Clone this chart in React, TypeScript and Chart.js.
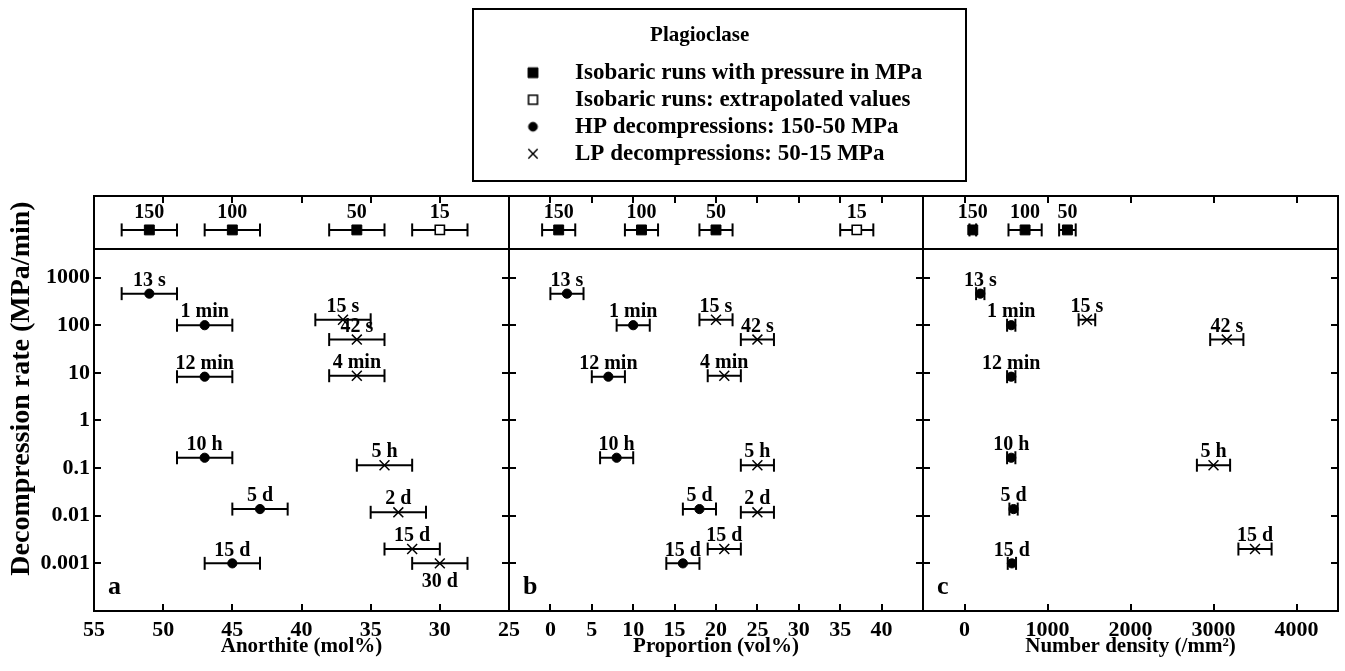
import React, { useEffect, useRef } from 'react';
import { Chart, registerables } from 'chart.js';
import { drawPoint } from 'chart.js/helpers';

Chart.register(...registerables);

const W = 1345;
const H = 671;
const SERIF = "'Liberation Serif', 'Times New Roman', Times, serif";

// ---------------- data ----------------
const pressureLabels = ['150', '100', '50', '15'];
const pressureExtrapolated = [false, false, false, true];
const isoAnorthite = [51, 45, 36, 30];
const isoAnorthiteErr = [2, 2, 2, 2];
const isoProportion = [1, 11, 20, 37];
const isoProportionErr = [2, 2, 2, 2];
const isoDensity = [100, 730, 1240, null];
const isoDensityErr = [40, 200, 100, null];

const hpLabels = ['13 s', '1 min', '12 min', '10 h', '5 d', '15 d'];
const hpRate = [460, 100, 8.3, 0.165, 0.0138, 0.001];
const hpAnorthite = [51, 47, 47, 47, 43, 45];
const hpAnorthiteErr = [2, 2, 2, 2, 2, 2];
const hpProportion = [2, 10, 7, 8, 18, 16];
const hpProportionErr = [2, 2, 2, 2, 2, 2];
const hpDensity = [190, 563, 563, 563, 591, 571];
const hpDensityErr = [50, 50, 50, 50, 50, 50];

const lpLabels = ['15 s', '42 s', '4 min', '5 h', '2 d', '15 d', '30 d'];
const lpRate = [130, 50, 8.7, 0.115, 0.0118, 0.002, 0.001];
const lpAnorthite = [37, 36, 36, 34, 33, 32, 30];
const lpAnorthiteErr = [2, 2, 2, 2, 2, 2, 2];
const lpProportion = [20, 25, 21, 25, 25, 21, null];
const lpProportionErr = [2, 2, 2, 2, 2, 2, null];
const lpDensity = [1475, 3160, null, 3000, null, 3500, null];
const lpDensityErr = [100, 200, null, 200, null, 200, null];

const rateTicks = [1000, 100, 10, 1, 0.1, 0.01, 0.001];
const anorthiteTicks = [55, 50, 45, 40, 35, 30, 25];
const proportionTicks = [0, 5, 10, 15, 20, 25, 30, 35, 40];
const densityTicks = [0, 1000, 2000, 3000, 4000];

const legendTitle = 'Plagioclase';
const legendTexts = [
  'Isobaric runs with pressure in MPa',
  'Isobaric runs: extrapolated values',
  'HP decompressions: 150-50 MPa',
  'LP decompressions: 50-15 MPa',
];
const labelsBelow = ['30 d'];

// ---------------- layout / style ----------------
const STRIP_TOP = 196;
const SPLIT = 249;
const BOTTOM = 611;
const STRIP_LEVEL = 0.36;

const tickFont = { family: SERIF, size: 22, weight: 'bold' as const };
const titleFont = { family: SERIF, size: 21, weight: 'bold' as const };

const markerStyles: Record<string, any> = {
  iso: { pointStyle: 'rect', pointRadius: 7, pointBackgroundColor: '#000', pointBorderColor: '#000', pointBorderWidth: 1 },
  isoOpen: { pointStyle: 'rect', pointRadius: 6.5, pointBackgroundColor: '#fff', pointBorderColor: '#000', pointBorderWidth: 1.6 },
  hp: { pointStyle: 'circle', pointRadius: 4.6, pointBackgroundColor: '#000', pointBorderColor: '#000', pointBorderWidth: 1 },
  lp: { pointStyle: 'crossRot', pointRadius: 7, pointBackgroundColor: '#000', pointBorderColor: '#000', pointBorderWidth: 1.5 },
};

type Num = number | null;

function collect(xs: Num[], ys: Num[], labels: string[], keep?: (i: number) => boolean) {
  const data: { x: number; y: number }[] = [];
  const lab: string[] = [];
  xs.forEach((x, i) => {
    if (x == null || ys[i] == null) return;
    if (keep && !keep(i)) return;
    data.push({ x, y: ys[i] as number });
    lab.push(labels[i]);
  });
  return { data, lab };
}

function errorBars(xs: Num[], errs: Num[], ys: Num[]) {
  const out: { x: number | null; y: number | null }[] = [];
  xs.forEach((x, i) => {
    const e = errs[i];
    const y = ys[i];
    if (x == null || e == null || y == null) return;
    out.push({ x: x - e, y }, { x: x + e, y }, { x: null, y: null });
  });
  return out;
}

function markerSet(kind: string, label: string, c: { data: any[]; lab: string[] }, offset: number) {
  return {
    label,
    data: c.data,
    pointLabels: c.lab,
    labelOffset: offset,
    order: 0,
    ...markerStyles[kind],
    pointHoverRadius: markerStyles[kind].pointRadius,
  };
}

function barSet(data: any[]) {
  return {
    data,
    showLine: true,
    borderColor: '#000',
    borderWidth: 2,
    pointStyle: 'line',
    pointRadius: 6.5,
    pointHoverRadius: 6.5,
    pointRotation: 90,
    pointBorderColor: '#000',
    pointBorderWidth: 2,
    pointBackgroundColor: '#000',
    order: 1,
  };
}

const fixSize = (size: number) => (scale: any) => {
  if (scale.isHorizontal()) scale.height = size;
  else scale.width = size;
  scale.paddingLeft = 0;
  scale.paddingRight = 0;
  scale.paddingTop = 0;
  scale.paddingBottom = 0;
};

const setTicks = (values: number[]) => (scale: any) => {
  scale.ticks = values.map((v) => ({ value: v }));
};

const tickGrid = () => ({
  drawOnChartArea: false,
  drawTicks: true,
  tickLength: -7,
  color: '#000',
  lineWidth: 2,
});

const decorPlugin = {
  id: 'decor',
  afterDatasetsDraw(chart: any) {
    const ctx = chart.ctx;
    ctx.save();
    ctx.fillStyle = '#000';
    ctx.font = `bold 20px ${SERIF}`;
    ctx.textAlign = 'center';
    ctx.textBaseline = 'middle';
    chart.data.datasets.forEach((ds: any, i: number) => {
      if (!ds.pointLabels) return;
      const meta = chart.getDatasetMeta(i);
      meta.data.forEach((el: any, j: number) => {
        const text = ds.pointLabels[j];
        if (!text) return;
        const below = labelsBelow.includes(text);
        ctx.fillText(text, el.x, below ? el.y + 18 : el.y - ds.labelOffset);
      });
    });
    ctx.restore();
  },
  afterDraw(chart: any, _args: any, opts: any) {
    const { ctx, chartArea: a } = chart;
    ctx.save();
    ctx.strokeStyle = '#000';
    ctx.lineWidth = 2;
    ctx.strokeRect(a.left, a.top, a.right - a.left, a.bottom - a.top);
    ctx.fillStyle = '#000';
    if (opts && opts.letter) {
      ctx.font = `bold 26px ${SERIF}`;
      ctx.textAlign = 'left';
      ctx.textBaseline = 'middle';
      ctx.fillText(opts.letter, a.left + 14, a.bottom - 24);
    }
    if (opts && opts.yTitle) {
      ctx.translate(opts.yTitleX, opts.yTitleY);
      ctx.rotate(-Math.PI / 2);
      ctx.font = `bold 28px ${SERIF}`;
      ctx.textAlign = 'center';
      ctx.textBaseline = 'middle';
      ctx.fillText(opts.yTitle, 0, 0);
    }
    ctx.restore();
  },
};

type Panel = {
  left: number;
  right: number;
  min: number;
  max: number;
  reverse: boolean;
  ticks: number[];
  title: string;
  letter: string;
  iso: Num[];
  isoErr: Num[];
  hp: Num[];
  hpErr: Num[];
  lp: Num[];
  lpErr: Num[];
  yLabels: boolean;
};

const panels: Panel[] = [
  {
    left: 94, right: 509, min: 25, max: 55, reverse: true, ticks: anorthiteTicks,
    title: 'Anorthite (mol%)', letter: 'a',
    iso: isoAnorthite, isoErr: isoAnorthiteErr, hp: hpAnorthite, hpErr: hpAnorthiteErr,
    lp: lpAnorthite, lpErr: lpAnorthiteErr, yLabels: true,
  },
  {
    left: 509, right: 923, min: -5, max: 45, reverse: false, ticks: proportionTicks,
    title: 'Proportion (vol%)', letter: 'b',
    iso: isoProportion, isoErr: isoProportionErr, hp: hpProportion, hpErr: hpProportionErr,
    lp: lpProportion, lpErr: lpProportionErr, yLabels: false,
  },
  {
    left: 923, right: 1338, min: -500, max: 4500, reverse: false, ticks: densityTicks,
    title: 'Number density (/mm²)', letter: 'c',
    iso: isoDensity, isoErr: isoDensityErr, hp: hpDensity, hpErr: hpDensityErr,
    lp: lpDensity, lpErr: lpDensityErr, yLabels: false,
  },
];

function stripConfig(p: Panel): any {
  const levels = p.iso.map(() => STRIP_LEVEL);
  return {
    type: 'scatter',
    data: {
      datasets: [
        markerSet('iso', legendTexts[0], collect(p.iso, levels, pressureLabels, (i) => !pressureExtrapolated[i]), 17),
        markerSet('isoOpen', legendTexts[1], collect(p.iso, levels, pressureLabels, (i) => pressureExtrapolated[i]), 17),
        barSet(errorBars(p.iso, p.isoErr, levels)),
      ],
    },
    options: {
      responsive: false,
      animation: false,
      devicePixelRatio: 1,
      events: [],
      layout: { padding: { left: p.left, right: W - p.right, top: STRIP_TOP, bottom: H - SPLIT }, autoPadding: false },
      scales: {
        x: {
          type: 'linear', position: 'top', min: p.min, max: p.max, reverse: p.reverse,
          afterBuildTicks: setTicks(p.ticks), afterFit: fixSize(0),
          grid: tickGrid(), border: { display: false },
          ticks: { display: false, autoSkip: false },
        },
        y: { type: 'linear', display: false, min: 0, max: 1 },
      },
      plugins: { legend: { display: false }, tooltip: { enabled: false }, decor: {} },
    },
    plugins: [decorPlugin],
  };
}

function mainConfig(p: Panel, first: boolean): any {
  // the labelled left axis needs a real box width (labels are clipped to it)
  const leftAxisWidth = p.yLabels ? p.left : 0;
  const yAxis = (position: string, showLabels: boolean, width: number) => ({
    type: 'logarithmic', position, min: 1e-4, max: Math.pow(10, 3.6),
    afterBuildTicks: setTicks(rateTicks), afterFit: fixSize(width),
    grid: tickGrid(), border: { display: false },
    ticks: {
      display: showLabels, autoSkip: false, padding: 11, color: '#000', font: tickFont,
      callback: (v: number) => String(v),
    },
  });
  return {
    type: 'scatter',
    data: {
      datasets: [
        markerSet('hp', legendTexts[2], collect(p.hp, hpRate, hpLabels), 13),
        barSet(errorBars(p.hp, p.hpErr, hpRate)),
        markerSet('lp', legendTexts[3], collect(p.lp, lpRate, lpLabels), 13),
        barSet(errorBars(p.lp, p.lpErr, lpRate)),
      ],
    },
    options: {
      responsive: false,
      animation: false,
      devicePixelRatio: 1,
      events: [],
      layout: {
        padding: { left: p.left - leftAxisWidth, right: W - p.right, top: SPLIT, bottom: 0 },
        autoPadding: false,
      },
      scales: {
        x: {
          type: 'linear', position: 'bottom', min: p.min, max: p.max, reverse: p.reverse,
          afterBuildTicks: setTicks(p.ticks), afterFit: fixSize(H - BOTTOM),
          grid: tickGrid(), border: { display: false },
          ticks: {
            autoSkip: false, maxRotation: 0, padding: 13, color: '#000', font: tickFont,
            callback: (v: number) => String(v),
          },
          title: { display: true, text: p.title, color: '#000', font: titleFont, padding: { top: 0, bottom: 12 } },
        },
        y: yAxis('left', p.yLabels, leftAxisWidth),
        y2: yAxis('right', false, 0),
      },
      plugins: {
        legend: { display: false },
        tooltip: { enabled: false },
        decor: first
          ? { letter: p.letter, yTitle: 'Decompression rate (MPa/min)', yTitleX: 21.5, yTitleY: 388.5 }
          : { letter: p.letter },
      },
    },
    plugins: [decorPlugin],
  };
}

function legendIcon(ds: any) {
  const r = ds.pointRadius;
  const bw = ds.pointBorderWidth;
  const size = Math.ceil(2 * r + 6);
  const c = document.createElement('canvas');
  c.width = size;
  c.height = size;
  const ctx = c.getContext('2d') as CanvasRenderingContext2D;
  ctx.fillStyle = ds.pointBackgroundColor;
  ctx.strokeStyle = ds.pointBorderColor;
  ctx.lineWidth = bw;
  drawPoint(ctx, { pointStyle: ds.pointStyle, radius: r, borderWidth: bw, rotation: 0 } as any, size / 2, size / 2);
  return c;
}

function legendConfig(): any {
  const legendStyles = [
    { ...markerStyles.iso, pointRadius: 7 },
    { ...markerStyles.isoOpen, pointRadius: 6.3 },
    { ...markerStyles.hp, pointRadius: 4.4 },
    { ...markerStyles.lp, pointRadius: 6.6 },
  ];
  return {
    type: 'scatter',
    data: {
      datasets: legendTexts.map((t, i) => ({ label: t, data: [], ...legendStyles[i] })),
    },
    options: {
      responsive: false,
      animation: false,
      devicePixelRatio: 1,
      events: [],
      layout: { padding: { left: 24.5, right: 0, top: 0, bottom: 0 }, autoPadding: false },
      scales: { x: { display: false }, y: { display: false } },
      plugins: {
        tooltip: { enabled: false },
        legend: {
          display: true,
          position: 'left',
          align: 'start',
          maxWidth: 2000,
          title: {
            display: true,
            text: legendTitle + '      ',
            color: '#000',
            font: { family: SERIF, size: 21, weight: 'bold' },
            padding: { top: 15, bottom: 7 },
          },
          labels: {
            usePointStyle: true,
            pointStyleWidth: 61,
            color: '#000',
            padding: 4,
            font: { family: SERIF, size: 23, weight: 'bold' },
            generateLabels: (chart: any) =>
              chart.data.datasets.map((ds: any, i: number) => ({
                text: ds.label,
                datasetIndex: i,
                pointStyle: legendIcon(ds),
                fillStyle: ds.pointBackgroundColor,
                strokeStyle: ds.pointBorderColor,
                lineWidth: ds.pointBorderWidth,
                fontColor: '#000',
                hidden: false,
              })),
          },
        },
      },
    },
  };
}

export default function App() {
  const refs = useRef<(HTMLCanvasElement | null)[]>([]);
  const legendRef = useRef<HTMLCanvasElement | null>(null);

  useEffect(() => {
    document.body.style.margin = '0';
    const charts: Chart[] = [];
    panels.forEach((p, i) => {
      const s = refs.current[2 * i];
      const m = refs.current[2 * i + 1];
      if (s) charts.push(new Chart(s, stripConfig(p)));
      if (m) charts.push(new Chart(m, mainConfig(p, i === 0)));
    });
    if (legendRef.current) charts.push(new Chart(legendRef.current, legendConfig()));
    return () => charts.forEach((c) => c.destroy());
  }, []);

  return (
    <div style={{ position: 'relative', width: W, height: H, background: '#fff', overflow: 'hidden' }}>
      {Array.from({ length: 6 }).map((_, i) => (
        <canvas
          key={i}
          ref={(el) => {
            refs.current[i] = el;
          }}
          width={W}
          height={H}
          style={{ position: 'absolute', left: 0, top: 0 }}
        />
      ))}
      <div
        style={{
          position: 'absolute',
          left: 472,
          top: 8,
          width: 495,
          height: 174,
          border: '2px solid #000',
          boxSizing: 'border-box',
          background: '#fff',
        }}
      >
        <canvas ref={legendRef} width={491} height={170} />
      </div>
    </div>
  );
}
